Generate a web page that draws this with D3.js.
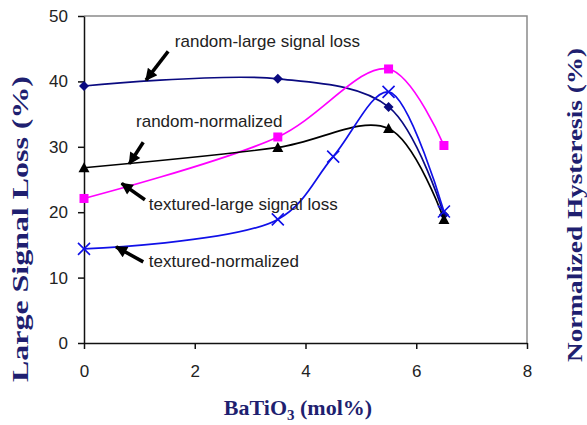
<!DOCTYPE html>
<html><head><meta charset="utf-8">
<script src="https://cdn.jsdelivr.net/npm/d3@7"></script>
<style>body{margin:0;background:#fff}svg{display:block}</style>
</head><body>
<svg id="c" width="587" height="425"></svg>
<script>
// ---- data ----
const xTicks = [0, 2, 4, 6, 8];
const yTicks = [0, 10, 20, 30, 40, 50];
const xRandomLSL = [0, 3.5, 5.5, 6.5];
const yRandomLSL = [39.3, 40.4, 36.1, 19.6];
const xTexturedLSL = [0, 3.5, 5.5, 6.5];
const yTexturedLSL = [22.1, 31.5, 41.9, 30.2];
const xRandomNorm = [0, 3.5, 5.5, 6.5];
const yRandomNorm = [26.8, 29.9, 32.8, 18.9];
const xTexturedNorm = [0, 3.5, 4.5, 5.5, 6.5];
const yTexturedNorm = [14.4, 18.9, 28.5, 38.4, 20.1];
const annLabels = ["random-large signal loss", "random-normalized", "textured-large signal loss", "textured-normalized"];
const annTextX = [1.64, 0.94, 1.17, 1.17];
const annTextY = [45.3, 33.0, 20.3, 11.6];
const annFromX = [1.52, 1.07, 1.10, 1.07];
const annFromY = [44.6, 30.7, 21.9, 12.4];
const annToX = [1.12, 0.82, 0.68, 0.58];
const annToY = [40.2, 27.4, 24.4, 14.7];

const svg = d3.select("#c");
const x = d3.scaleLinear().domain([0, 8]).range([84, 527]);
const y = d3.scaleLinear().domain([0, 50]).range([343, 16]);

// frame top/right
svg.append("path").attr("d", `M${x(0)},${y(50)}H${x(8)}V${y(0)}`)
  .attr("fill", "none").attr("stroke", "#8a8a8a").attr("stroke-width", 1.5);

const ax = svg.append("g").attr("transform", `translate(0,${y(0)})`)
  .call(d3.axisBottom(x).tickValues(xTicks).tickSize(6).tickSizeOuter(0).tickPadding(16));
const ay = svg.append("g").attr("transform", `translate(${x(0)},0)`)
  .call(d3.axisLeft(y).tickValues(yTicks).tickSize(6).tickSizeOuter(0).tickPadding(10));
[ax, ay].forEach(g => {
  g.selectAll("path,line").attr("stroke", "#111").attr("stroke-width", 1.5);
  g.selectAll("text").attr("font-family", "Liberation Sans, Arial, sans-serif")
    .attr("font-size", 17).attr("fill", "#222");
});

const series = [
  {xs: xRandomLSL, ys: yRandomLSL, color: "#0a0a80", marker: "diamond"},
  {xs: xTexturedLSL, ys: yTexturedLSL, color: "#ff00ff", marker: "square"},
  {xs: xRandomNorm, ys: yRandomNorm, color: "#000000", marker: "triangle"},
  {xs: xTexturedNorm, ys: yTexturedNorm, color: "#1010e8", marker: "x"},
];
const line = d3.line().x(d => x(d[0])).y(d => y(d[1])).curve(d3.curveCatmullRom.alpha(0.5));
series.forEach(s => {
  const pts = s.xs.map((v, i) => [v, s.ys[i]]);
  svg.append("path").datum(pts).attr("d", line).attr("fill", "none")
    .attr("stroke", s.color).attr("stroke-width", 1.7);
  const g = svg.append("g");
  pts.forEach(p => {
    const cx = x(p[0]), cy = y(p[1]);
    if (s.marker === "diamond") {
      g.append("path").attr("d", `M${cx},${cy-5}L${cx+5},${cy}L${cx},${cy+5}L${cx-5},${cy}Z`).attr("fill", s.color);
    } else if (s.marker === "square") {
      g.append("rect").attr("x", cx-4.5).attr("y", cy-4.5).attr("width", 9).attr("height", 9).attr("fill", s.color);
    } else if (s.marker === "triangle") {
      g.append("path").attr("d", `M${cx},${cy-5.5}L${cx+5.5},${cy+4.5}L${cx-5.5},${cy+4.5}Z`).attr("fill", s.color);
    } else {
      g.append("path").attr("d", `M${cx-6},${cy-6}L${cx+6},${cy+6}M${cx+6},${cy-6}L${cx-6},${cy+6}`)
        .attr("stroke", s.color).attr("stroke-width", 1.6);
    }
  });
});

// annotations
svg.append("defs").append("marker").attr("id", "ah").attr("viewBox", "0 0 10 10")
  .attr("refX", 9).attr("refY", 5).attr("markerWidth", 14).attr("markerHeight", 12)
  .attr("markerUnits", "userSpaceOnUse").attr("orient", "auto")
  .append("path").attr("d", "M0,0L10,5L0,10Z").attr("fill", "#000");
annLabels.forEach((t, i) => {
  svg.append("text").attr("x", x(annTextX[i])).attr("y", y(annTextY[i])).text(t)
    .attr("font-family", "Liberation Sans, Arial, sans-serif").attr("font-size", 17).attr("fill", "#222");
  svg.append("line").attr("x1", x(annFromX[i])).attr("y1", y(annFromY[i]))
    .attr("x2", x(annToX[i])).attr("y2", y(annToY[i]))
    .attr("stroke", "#000").attr("stroke-width", 3.5).attr("marker-end", "url(#ah)");
});

// axis titles
const tf = "Liberation Serif, 'Times New Roman', serif";
svg.append("text").attr("transform", "translate(28,229) rotate(-90)").attr("text-anchor", "middle")
  .attr("font-family", tf).attr("font-weight", "bold").attr("font-size", 23).attr("fill", "#1f1f70")
  .attr("textLength", 306).attr("lengthAdjust", "spacingAndGlyphs").text("Large Signal Loss (%)");
svg.append("text").attr("transform", "translate(582,205) rotate(-90)").attr("text-anchor", "middle")
  .attr("font-family", tf).attr("font-weight", "bold").attr("font-size", 22).attr("fill", "#1f1f70")
  .attr("textLength", 314).attr("lengthAdjust", "spacingAndGlyphs").text("Normalized Hysteresis (%)");
const xt = svg.append("text").attr("x", 298).attr("y", 415).attr("text-anchor", "middle")
  .attr("font-family", tf).attr("font-weight", "bold").attr("font-size", 22).attr("fill", "#1f1f70");
xt.append("tspan").text("BaTiO");
xt.append("tspan").attr("font-size", 15).attr("dy", 5).text("3");
xt.append("tspan").attr("dy", -5).text(" (mol%)");
</script>
</body></html>
